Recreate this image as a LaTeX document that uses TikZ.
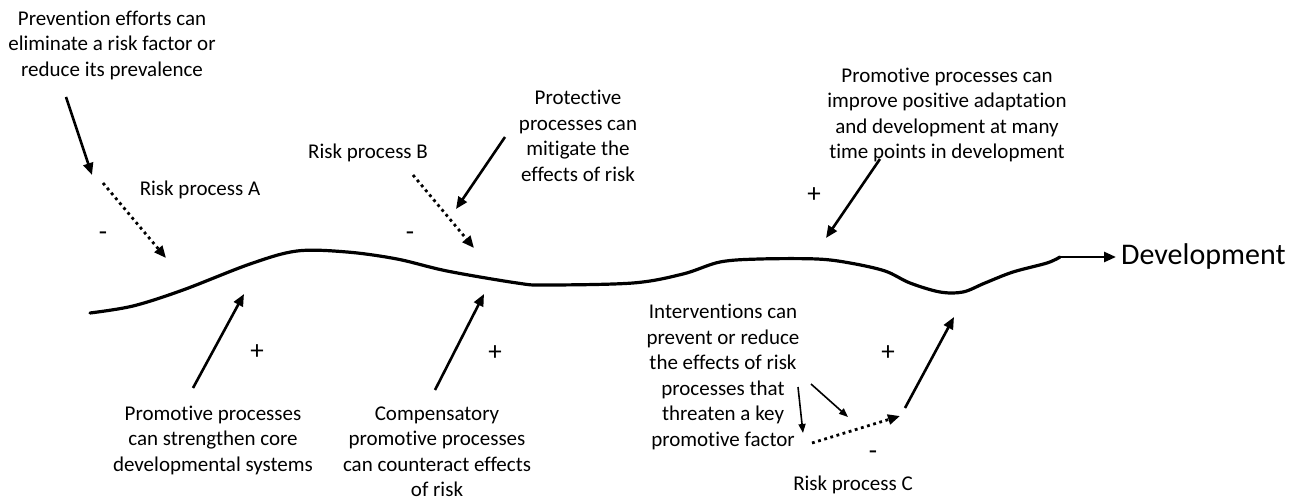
\documentclass[tikz,border=0pt]{standalone}
\usepackage{fontspec}
\setmainfont{Carlito}[Ligatures=NoCommon]
\usetikzlibrary{arrows.meta}
\begin{document}
\begin{tikzpicture}[x=1pt,y=-1pt,
  txt/.style={inner sep=0pt,align=center,font=\fontsize{21pt}{25.5pt}\selectfont},
  sgn/.style={inner sep=0pt,font=\fontsize{27pt}{30pt}\selectfont},
  bigarrow/.style={line width=2.6pt,-{Triangle[length=12pt,width=10pt]}},
  dotarrow/.style={line width=2.8pt,dash pattern=on 2.8pt off 3.6pt,-{Triangle[length=12pt,width=10pt]}},
  thinarrow/.style={line width=1.6pt,-{Triangle[length=9pt,width=7pt]}},
  devline/.style={line width=3.2pt,line cap=round,line join=round}]
\useasboundingbox (0,0) rectangle (1301,502);

% texts
\node[txt] (prev) at (112,45) {Prevention efforts can\\eliminate a risk factor or\\reduce its prevalence};
\node[txt] (riskA) at (200,190) {Risk process A};
\node[sgn] (minusA) at (103,236) {-};
\node[txt] (riskB) at (368,153) {Risk process B};
\node[sgn] (minusB) at (410,236) {-};
\node[txt] (prot) at (578,136) {Protective\\processes can\\mitigate the\\effects of risk};
\node[sgn] (plusTop) at (814,195) {+};
\node[txt] (promTop) at (947,115) {Promotive processes can\\improve positive adaptation\\and development at many\\time points in development};
\node[inner sep=0pt,anchor=west,font=\fontsize{30pt}{36pt}\selectfont] (dev) at (1121,257) {Development};
\node[txt] (promBot) at (213,440) {Promotive processes\\can strengthen core\\developmental systems};
\node[sgn] (plusA) at (257,352) {+};
\node[txt] (comp) at (437,452) {Compensatory\\promotive processes\\can counteract effects\\of risk};
\node[sgn] (plusB) at (495,353) {+};
\node[txt] (interv) at (723,377) {Interventions can\\prevent or reduce\\the effects of risk\\processes that\\threaten a key\\promotive factor};
\node[sgn] (plusC) at (888,353) {+};
\node[sgn] (minusC) at (873,455) {-};
\node[txt] (riskC) at (853,485) {Risk process C};

% development curve
\draw[devline] plot[smooth,tension=0.55] coordinates {
 (90,313) (133,306) (183,290) (250,264) (297,251) (347,252) (397,259) (447,271)
 (517,283) (545,285) (633,283) (683,274) (720,262) (760,259) (817,259) (850,263)
 (885,271) (910,283) (940,292) (963,292) (985,283) (1013,272) (1047,263) (1060,257)};
\coordinate (curveEnd) at (1060,257);
\coordinate (devTip) at (1116,257);
\draw[line width=2.6pt,-{Triangle[length=12pt,width=10pt]}] (curveEnd) -- (devTip);

% arrow endpoints
\coordinate (p1s) at (66,97);   \coordinate (p1e) at (92,175);
\coordinate (aS) at (103,183);  \coordinate (aE) at (166,258);
\coordinate (bS) at (413,175);  \coordinate (bE) at (474,248);
\coordinate (prS) at (505,137); \coordinate (prE) at (456,209);
\coordinate (ptS) at (880,159); \coordinate (ptE) at (826,238);
\coordinate (pbS) at (193,388); \coordinate (pbE) at (244,294);
\coordinate (cS) at (435,390);  \coordinate (cE) at (484,294);
\coordinate (cuS) at (905,408); \coordinate (cuE) at (954,317);
\coordinate (dcS) at (812,443); \coordinate (dcE) at (900,416);
\coordinate (t1S) at (798,387); \coordinate (t1E) at (803,433);
\coordinate (t2S) at (811,384); \coordinate (t2E) at (848,417);

\draw[bigarrow] (p1s) -- (p1e);
\draw[dotarrow] (aS) -- (aE);
\draw[dotarrow] (bS) -- (bE);
\draw[bigarrow] (prS) -- (prE);
\draw[bigarrow] (ptS) -- (ptE);
\draw[bigarrow] (pbS) -- (pbE);
\draw[bigarrow] (cS) -- (cE);
\draw[bigarrow] (cuS) -- (cuE);
\draw[dotarrow] (dcS) -- (dcE);
\draw[thinarrow] (t1S) -- (t1E);
\draw[thinarrow] (t2S) -- (t2E);
\end{tikzpicture}
\end{document}
